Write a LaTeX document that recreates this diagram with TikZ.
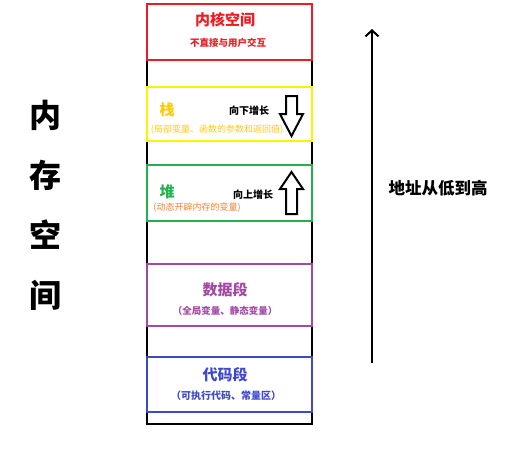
\documentclass[tikz,border=0pt]{standalone}
\usepackage{fontspec}
\setmainfont{Noto Sans CJK SC}
\usetikzlibrary{arrows.meta, positioning}
\definecolor{pred}{RGB}{237,28,36}
\definecolor{pyellow}{RGB}{255,242,0}
\definecolor{pgold}{RGB}{255,201,14}
\definecolor{pgreen}{RGB}{34,177,76}
\definecolor{porange}{RGB}{255,127,39}
\definecolor{ppurple}{RGB}{163,73,164}
\definecolor{pblue}{RGB}{63,72,204}
\begin{document}
\begin{tikzpicture}[>=Latex, x=1pt, y=-1pt, font=\bfseries,
  seg/.style={rectangle,draw,line width=2.2pt,minimum width=165pt,inner sep=0pt},
  title/.style={inner sep=0pt,font=\fontsize{15}{15}\selectfont\bfseries},
  note/.style={inner sep=0pt,font=\fontsize{9.5}{10}\selectfont\bfseries},
  blk/.style={draw=black,line width=2pt,line join=miter}]
\useasboundingbox (0,0) rectangle (517,455);
% outer column
\draw[line width=2.5pt] (147,4) -- (147,424) -- (312,424) -- (312,4);

% Kernel space
\node[seg,draw=pred,minimum height=56pt] (kernel) at (229.5,32) {};
\node[title,text=pred] (kerneltxt) at (225,20) {内核空间};
\node[note,text=pred] (kernelnote) at (228,43) {不直接与用户交互};
% Stack
\node[seg,draw=pyellow,minimum height=54pt] (stack) at (229.5,114) {};
\node[title,text=pgold] (stacktxt) at (167,110) {栈};
\node[note,font=\fontsize{10}{10}\selectfont\bfseries] (stackdir) at (249,111) {向下增长};
\node[note,text=pgold,font=\fontsize{9}{9}\selectfont] (stacknote) at (217,130) {(局部变量、函数的参数和返回值)};
\draw[blk] (286,96) -- ++(11,0) -- ++(0,18) -- ++(6,0) -- (291.5,136) -- (280,114) -- ++(6,0) -- cycle;
% Heap
\node[seg,draw=pgreen,minimum height=56pt] (heap) at (229.5,193) {};
\node[title,text=pgreen] (heaptxt) at (167,192) {堆};
\node[note,font=\fontsize{10}{10}\selectfont\bfseries] (heapdir) at (253,195) {向上增长};
\node[note,text=porange,font=\fontsize{9}{9}\selectfont] (heapnote) at (197,208) {(动态开辟内存的变量)};
\draw[blk] (291.5,172) -- (303,189) -- ++(-6,0) -- (297,214) -- ++(-11,0) -- (286,189) -- ++(-6,0) -- cycle;
% Data segment
\node[seg,draw=ppurple,minimum height=62pt] (data) at (229.5,295) {};
\node[title,text=ppurple] (datatxt) at (225,290) {数据段};
\node[note,text=ppurple] (datanote) at (225,311) {（全局变量、静态变量）};
% Code segment
\node[seg,draw=pblue,minimum height=55pt] (code) at (229.5,384.5) {};
\node[title,text=pblue] (codetxt) at (225,375) {代码段};
\node[note,text=pblue,font=\fontsize{10}{10}\selectfont\bfseries] (codenote) at (226,396) {（可执行代码、常量区）};

% Left label
\foreach \ch [count=\i] in {内,存,空,间}
  \node[inner sep=0pt,font=\fontsize{32}{32}\selectfont\bfseries] (mem\i) at (45,55+60*\i) {\ch};

% Address arrow
\coordinate (addrlow) at (372,363);
\coordinate (addrhigh) at (372,29);
\draw[-{Straight Barb[length=6pt,width=13pt]},line width=2pt] (addrlow) -- (addrhigh);
\node[inner sep=0pt,font=\fontsize{16.5}{16.5}\selectfont\bfseries] (addrtxt) at (438,188) {地址从低到高};
\end{tikzpicture}
\end{document}
